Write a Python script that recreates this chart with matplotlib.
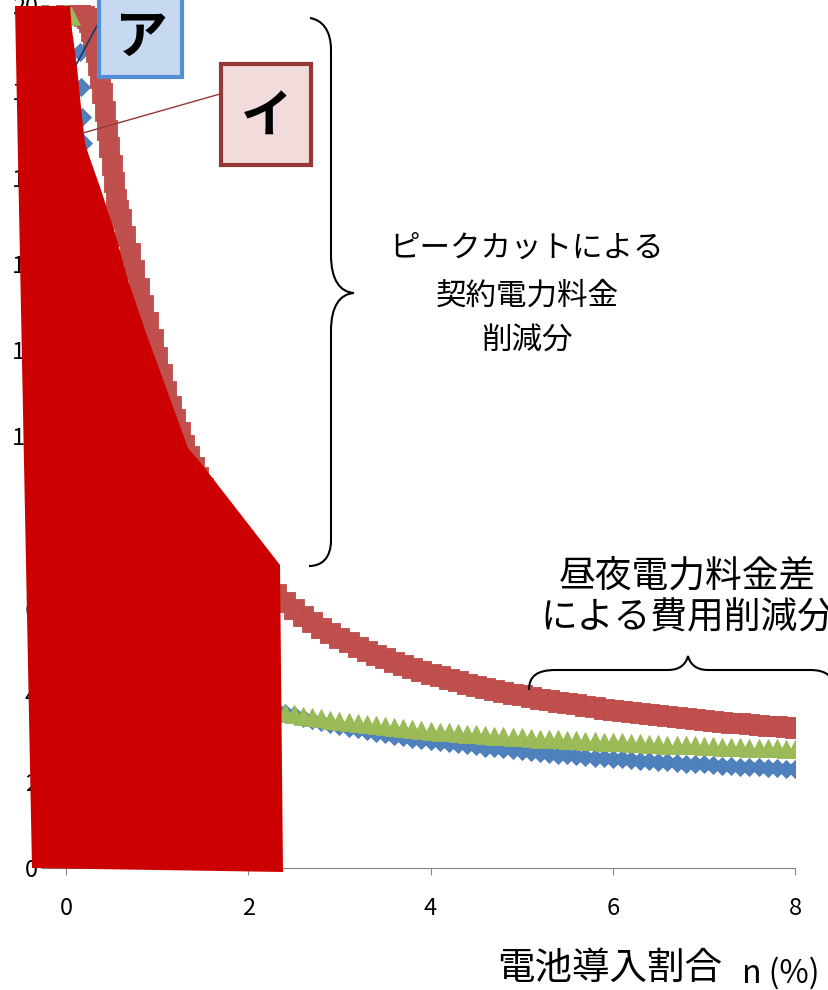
import numpy as np
import matplotlib.pyplot as plt
from matplotlib.path import Path
from matplotlib.patches import PathPatch, Polygon, Rectangle
from matplotlib.lines import Line2D

plt.rcParams['font.family'] = ['Noto Sans CJK JP', 'DejaVu Sans']

W, H = 829, 990

# 電池導入割合 n (%) -- common grid
n_main = [0.3, 0.4, 0.5, 0.6, 0.7, 0.8, 0.9,
          1.0, 1.1, 1.2, 1.3, 1.4, 1.5, 1.6, 1.7, 1.8, 1.9,
          2.0, 2.1, 2.2, 2.3, 2.4, 2.5, 2.6, 2.7, 2.8, 2.9,
          3.0, 3.1, 3.2, 3.3, 3.4, 3.5, 3.6, 3.7, 3.8, 3.9,
          4.0, 4.1, 4.2, 4.3, 4.4, 4.5, 4.6, 4.7, 4.8, 4.9,
          5.0, 5.1, 5.2, 5.3, 5.4, 5.5, 5.6, 5.7, 5.8, 5.9,
          6.0, 6.1, 6.2, 6.3, 6.4, 6.5, 6.6, 6.7, 6.8, 6.9,
          7.0, 7.1, 7.2, 7.3, 7.4, 7.5, 7.6, 7.7, 7.8, 7.9,
          8.0]

# red squares: dense points on the steep part, then the common grid from 1.6
red_head_n = [0.0, 0.05, 0.1, 0.15,
              0.2, 0.225, 0.25, 0.275, 0.3, 0.325, 0.35, 0.375, 0.4,
              0.425, 0.45, 0.475, 0.5, 0.525, 0.55, 0.575, 0.6,
              0.65, 0.7, 0.75, 0.8, 0.85, 0.9, 0.95, 1.0, 1.05, 1.1,
              1.15, 1.2, 1.25, 1.3, 1.35, 1.4, 1.45, 1.5]
red_head = [19.8, 19.8, 19.8, 19.8,
            19.75, 19.7, 19.6, 19.4, 19.2, 18.9, 18.6, 18.3, 17.95,
            17.55, 17.1, 16.7, 16.3, 15.9, 15.5, 15.25, 15.05,
            14.65, 14.25, 13.85, 13.45, 13.05, 12.65, 12.25, 11.85, 11.45, 11.05,
            10.7, 10.4, 10.1, 9.8, 9.55, 9.3, 9.05, 8.8]
red_tail = [8.35, 7.95, 7.60, 7.28,
            7.00, 6.76, 6.55, 6.35, 6.17, 6.00, 5.85, 5.70, 5.57, 5.45,
            5.33, 5.23, 5.13, 5.03, 4.94, 4.86, 4.78, 4.70, 4.63, 4.56,
            4.50, 4.44, 4.38, 4.33, 4.27, 4.22, 4.17, 4.13, 4.08, 4.04,
            4.00, 3.96, 3.92, 3.89, 3.85, 3.82, 3.79, 3.75, 3.72, 3.69,
            3.67, 3.64, 3.61, 3.59, 3.56, 3.54, 3.52, 3.49, 3.47, 3.45,
            3.43, 3.41, 3.39, 3.37, 3.35, 3.33, 3.32, 3.30, 3.28, 3.27,
            3.25]

# green triangles
green_head_n = [0.0, 0.05, 0.2]
green_head = [19.9, 19.75, 11.0]
green_main = [7.03, 6.32, 5.84, 5.48, 5.20, 4.98, 4.79,
              4.64, 4.50, 4.38, 4.28, 4.19, 4.10, 4.03, 3.96, 3.90, 3.84,
              3.78, 3.73, 3.69, 3.65, 3.60, 3.57, 3.53, 3.50, 3.47, 3.44,
              3.41, 3.38, 3.35, 3.33, 3.31, 3.28, 3.26, 3.24, 3.22, 3.20,
              3.18, 3.16, 3.15, 3.13, 3.11, 3.10, 3.08, 3.07, 3.06, 3.04,
              3.03, 3.02, 3.00, 2.99, 2.98, 2.97, 2.96, 2.95, 2.94, 2.93,
              2.92, 2.91, 2.90, 2.89, 2.88, 2.87, 2.86, 2.85, 2.84, 2.84,
              2.83, 2.82, 2.81, 2.81, 2.80, 2.79, 2.78, 2.78, 2.77, 2.76,
              2.76]

# blue diamonds
blue_head_n = [0.15, 0.16, 0.17, 0.185, 0.22]
blue_head = [18.9, 18.1, 17.4, 16.8, 14.2]
blue_main = [8.90, 7.80, 7.05, 6.50, 6.07, 5.72, 5.43,
             5.19, 4.98, 4.80, 4.64, 4.50, 4.37, 4.25, 4.14, 4.05, 3.96,
             3.87, 3.80, 3.73, 3.66, 3.60, 3.54, 3.48, 3.43, 3.38, 3.34,
             3.29, 3.25, 3.21, 3.17, 3.13, 3.10, 3.07, 3.03, 3.00, 2.97,
             2.95, 2.92, 2.89, 2.87, 2.84, 2.82, 2.79, 2.77, 2.75, 2.73,
             2.71, 2.69, 2.67, 2.65, 2.63, 2.61, 2.60, 2.58, 2.56, 2.55,
             2.53, 2.52, 2.50, 2.49, 2.47, 2.46, 2.45, 2.43, 2.42, 2.41,
             2.40, 2.39, 2.37, 2.36, 2.35, 2.34, 2.33, 2.32, 2.31, 2.30,
             2.29]

x_ticks = [0, 2, 4, 6, 8]
y_ticks = [0, 2, 4, 6, 8, 10, 12, 14, 16, 18, 20]

# red cover shape over the left part (figure pixels, from top-left)
cover_px = [(15, 6), (70, 6), (72, 30), (77, 67), (82, 117), (85, 143),
            (88, 153), (100, 187), (115, 233), (128, 280), (145, 330),
            (188, 448), (200, 462), (280, 565), (283, 872), (32, 868)]


def px(x, y):
    return (x / W, 1 - y / H)


fig = plt.figure(figsize=(W / 100, H / 100), dpi=100)
ax = fig.add_axes([47.8 / W, 1 - 868 / H, (795 - 47.8) / W, (868 - 5) / H])

ax.plot(blue_head_n + n_main, blue_head + blue_main, 'D', color='#4F81BD',
        ms=9, mec='#4A7EBB', mew=0.6, ls='none')
ax.plot(red_head_n + n_main[13:], red_head + red_tail, 's', color='#C0504D',
        ms=14.5, mec='#BE4B48', mew=0.6, ls='none')
ax.plot(green_head_n + n_main, green_head + green_main, '^', color='#9BBB59',
        ms=12.5, mec='#98B954', mew=0.6, ls='none')

ax.set_xlim(-0.2, 8)
ax.set_ylim(0, 20)
ax.set_xticks(x_ticks)
ax.set_yticks(y_ticks)
for s in ['top', 'right']:
    ax.spines[s].set_visible(False)
ax.spines['bottom'].set_color('#868686')
ax.spines['left'].set_color('#868686')
ax.tick_params(axis='x', direction='out', length=5, color='#868686',
               labelsize=17, pad=16)
ax.tick_params(axis='y', direction='out', length=5, color='#868686',
               labelsize=17, pad=2)

# red cover
fig.add_artist(Polygon([px(*p) for p in cover_px], closed=True,
                       transform=fig.transFigure, facecolor='#CC0000',
                       edgecolor='none', zorder=5))

# braces
def brace(pts, codes):
    path = Path([px(*p) for p in pts], codes)
    fig.add_artist(PathPatch(path, transform=fig.transFigure, fill=False,
                             edgecolor='black', lw=1.5, zorder=6))

M, L, C = Path.MOVETO, Path.LINETO, Path.CURVE4
brace([(310, 18), (322, 20), (331, 30), (331, 50),
       (331, 255),
       (331, 280), (340, 292), (354, 293),
       (340, 294), (331, 306), (331, 331),
       (331, 540),
       (331, 558), (322, 566), (309, 566)],
      [M, C, C, C, L, C, C, C, C, C, C, L, C, C, C])
brace([(529, 690), (529, 676), (537, 670), (556, 670),
       (668, 670),
       (680, 670), (686, 664), (688, 656),
       (690, 664), (696, 670), (708, 670),
       (810, 670),
       (826, 670), (834, 676), (834, 690)],
      [M, C, C, C, L, C, C, C, C, C, C, L, C, C, C])

# annotation texts
for txt, y in [('ピークカットによる', 248), ('契約電力料金', 296), ('削減分', 341)]:
    fig.text(*px(527, y), txt, ha='center', va='center', fontsize=22, zorder=7)
for txt, y in [('昼夜電力料金差', 576), ('による費用削減分', 618)]:
    fig.text(*px(687, y), txt, ha='center', va='center', fontsize=26.5, zorder=7)

# callouts
fig.add_artist(Line2D([px(100, 20)[0], px(76, 65)[0]], [px(100, 20)[1], px(76, 65)[1]],
                      transform=fig.transFigure, color='#1F3864', lw=1.2, zorder=7))
fig.add_artist(Line2D([px(220, 94)[0], px(83, 133)[0]], [px(220, 94)[1], px(83, 133)[1]],
                      transform=fig.transFigure, color='#953735', lw=1.0, zorder=7))
fig.add_artist(Rectangle(px(99, 77), 83 / W, 90 / H, transform=fig.transFigure,
                         facecolor='#C6D9F1', edgecolor='#558ED5', lw=3, zorder=8))
fig.add_artist(Rectangle(px(221, 165), 90 / W, 101 / H, transform=fig.transFigure,
                         facecolor='#F2DCDB', edgecolor='#953735', lw=3, zorder=8))
fig.text(*px(141, 37), 'ア', ha='center', va='center', fontsize=38,
         fontweight='bold', zorder=9)
fig.text(*px(267, 116), 'イ', ha='center', va='center', fontsize=37,
         fontweight='bold', zorder=9)

# axis title
fig.text(*px(497, 968), '電池導入割合', ha='left', va='center', fontsize=27)
fig.text(*px(742, 973), 'n (%)', ha='left', va='center', fontsize=23)

fig.savefig('out.png', dpi=100)
